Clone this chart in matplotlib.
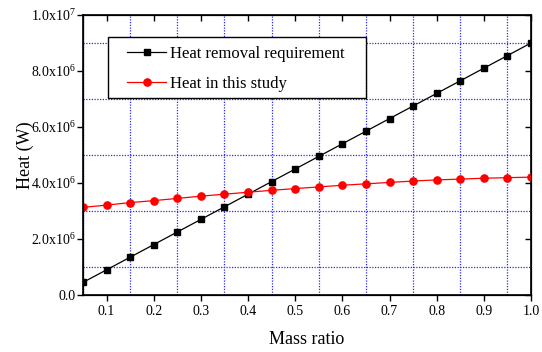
import numpy as np
import matplotlib
matplotlib.use("Agg")
import matplotlib.pyplot as plt
from matplotlib.ticker import MultipleLocator, FuncFormatter
from matplotlib.patches import Rectangle

plt.rcParams['font.family'] = ['Liberation Serif', 'DejaVu Serif']
plt.rcParams['mathtext.fontset'] = 'custom'
plt.rcParams['mathtext.rm'] = 'Liberation Serif'
plt.rcParams['mathtext.it'] = 'Liberation Serif:italic'

mass_ratio = [0.05, 0.10, 0.15, 0.20, 0.25, 0.30, 0.35, 0.40, 0.45, 0.50,
              0.55, 0.60, 0.65, 0.70, 0.75, 0.80, 0.85, 0.90, 0.95, 1.00]
heat_removal = [0.45e6, 0.90e6, 1.35e6, 1.80e6, 2.25e6, 2.70e6, 3.15e6, 3.60e6, 4.05e6, 4.50e6,
                4.95e6, 5.40e6, 5.85e6, 6.30e6, 6.75e6, 7.20e6, 7.65e6, 8.10e6, 8.55e6, 9.00e6]
heat_study = [3.13e6, 3.21e6, 3.30e6, 3.37e6, 3.45e6, 3.53e6, 3.60e6, 3.67e6, 3.74e6, 3.80e6,
              3.86e6, 3.92e6, 3.97e6, 4.02e6, 4.07e6, 4.11e6, 4.14e6, 4.17e6, 4.19e6, 4.21e6]


def fmt_y(v, pos):
    if v == 0:
        return "0.0"
    e = int(np.floor(np.log10(abs(v))))
    m = v / 10 ** e
    return "%.1fx10$^{%d}$" % (m, e)


fig = plt.figure(figsize=(5.42, 3.52), dpi=100)
ax = fig.add_axes([83 / 542, 1 - 295 / 352, 448 / 542, 280 / 352])

ax.plot(mass_ratio, heat_removal, '-s', color='black', lw=0.9, ms=4.6,
        label="Heat removal requirement", zorder=3)
ax.plot(mass_ratio, heat_study, '-o', color='red', lw=0.9, ms=5.2,
        label="Heat in this study", zorder=3)

ax.set_xlim(0.05, 1.0)
ax.set_ylim(0, 1.0e7)
ax.xaxis.set_major_locator(MultipleLocator(0.1))
ax.xaxis.set_minor_locator(MultipleLocator(0.05))
ax.yaxis.set_major_locator(MultipleLocator(2e6))
ax.yaxis.set_minor_locator(MultipleLocator(1e6))
ax.yaxis.set_major_formatter(FuncFormatter(fmt_y))
ax.xaxis.set_major_formatter(FuncFormatter(lambda v, p: "%.1f" % v))

ax.grid(which='minor', color='#2a2aee', linestyle=(0, (1, 1.2)), lw=0.9)
ax.grid(which='major', visible=False)
ax.set_axisbelow(True)

ax.tick_params(which='major', direction='out', length=4.5, width=1, labelsize=10,
               pad=0.5, top=False, right=False)
ax.tick_params(axis='x', pad=3)
ax.tick_params(which='minor', length=0)
for s in ax.spines.values():
    s.set_linewidth(1.2)

# inward ticks on top and right
axt = ax.twiny()
axt.set_xlim(ax.get_xlim())
axt.xaxis.set_major_locator(MultipleLocator(0.1))
axt.tick_params(direction='in', length=4, width=1, labeltop=False)
axr = ax.twinx()
axr.set_ylim(ax.get_ylim())
axr.yaxis.set_major_locator(MultipleLocator(2e6))
axr.tick_params(direction='in', length=4, width=1, labelright=False)

ax.set_xlabel("Mass ratio", fontsize=13, labelpad=9)
ax.set_ylabel("Heat (W)", fontsize=13)
ax.yaxis.set_label_coords(-0.11, 0.5)

# legend box (Origin style, wider horizontal padding)
box = Rectangle((25 / 448, (295 - 98) / 280), (366 - 108) / 448, 61 / 280,
                transform=ax.transAxes, facecolor='white', edgecolor='black',
                lw=1.0, zorder=4)
ax.add_patch(box)
leg = ax.legend(loc='upper left', bbox_to_anchor=((127 - 83) / 448, (295 - 46) / 280),
                fontsize=12, frameon=False, borderpad=0, borderaxespad=0,
                handlelength=2.35, handletextpad=0.25, labelspacing=0.82)
leg.set_zorder(5)

fig.savefig("out.png", dpi=100)
